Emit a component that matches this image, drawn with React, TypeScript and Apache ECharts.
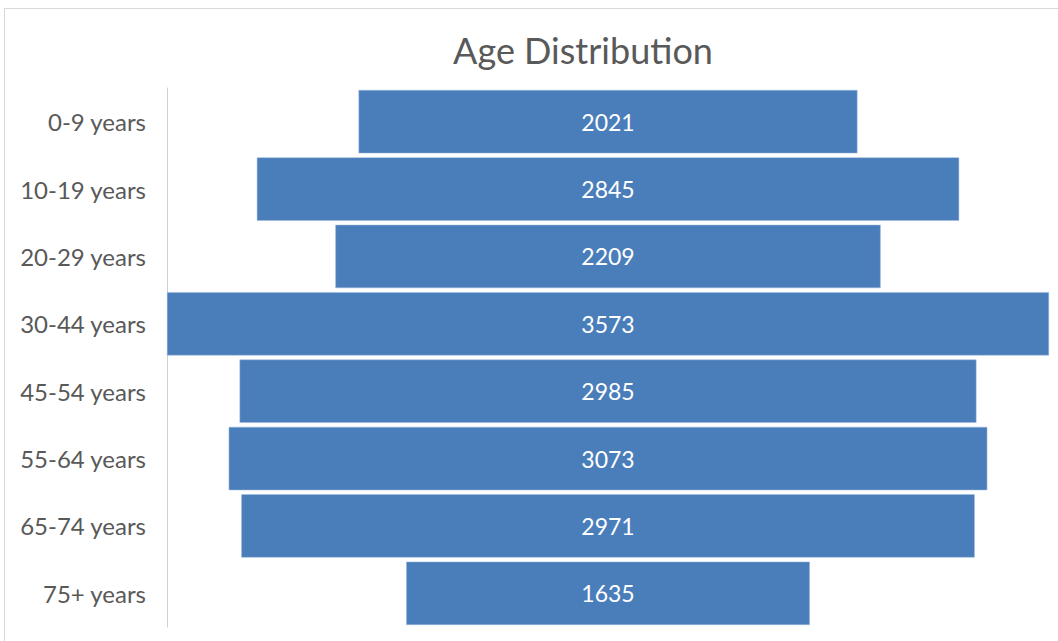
import React, { useEffect, useRef } from "react";
import * as echarts from "echarts";

const categories = ["0-9 years", "10-19 years", "20-29 years", "30-44 years", "45-54 years", "55-64 years", "65-74 years", "75+ years"];
const values = [2021, 2845, 2209, 3573, 2985, 3073, 2971, 1635];

export default function App() {
  const ref = useRef<HTMLDivElement>(null);
  useEffect(() => {
    const chart = echarts.init(ref.current!, null, { renderer: "svg" });
    const maxV = Math.max(...values);
    const offsets = values.map((v) => (maxV - v) / 2);
    chart.setOption({
      animation: false,
      backgroundColor: "#ffffff",
      title: {
        text: "Age Distribution",
        left: 578,
        top: 27,
        textAlign: "center",
        textStyle: { fontFamily: "Lato", fontSize: 36, fontWeight: "normal", color: "#595959" },
      },
      graphic: [
        { type: "line", shape: { x1: 4, y1: 8.5, x2: 1100, y2: 8.5 }, style: { stroke: "#d9d9d9", lineWidth: 1 } },
        { type: "line", shape: { x1: 4.5, y1: 8, x2: 4.5, y2: 700 }, style: { stroke: "#d9d9d9", lineWidth: 1 } },
      ],
      grid: { left: 167, right: 9, top: 88, bottom: 14 },
      xAxis: { type: "value", min: 0, max: maxV, show: false },
      yAxis: {
        type: "category",
        data: categories,
        inverse: true,
        axisLine: { show: true, lineStyle: { color: "#d0d0d0", width: 1 } },
        axisTick: { show: false },
        axisLabel: { fontFamily: "Lato", fontSize: 24, color: "#595959", margin: 21 },
      },
      series: [
        {
          type: "bar",
          stack: "s",
          data: offsets,
          itemStyle: { color: "transparent" },
          barCategoryGap: "6%",
          silent: true,
        },
        {
          type: "bar",
          stack: "s",
          data: values,
          barCategoryGap: "6%",
          itemStyle: { color: "#4a7ebb", borderColor: "#9fbbe0", borderWidth: 0.5 },
          label: { show: true, position: "inside", color: "#ffffff", fontFamily: "Lato", fontSize: 23 },
        },
      ],
    });
    return () => chart.dispose();
  }, []);
  return <div ref={ref} style={{ position: "fixed", left: 0, top: 0, width: 1058, height: 641 }} />;
}
